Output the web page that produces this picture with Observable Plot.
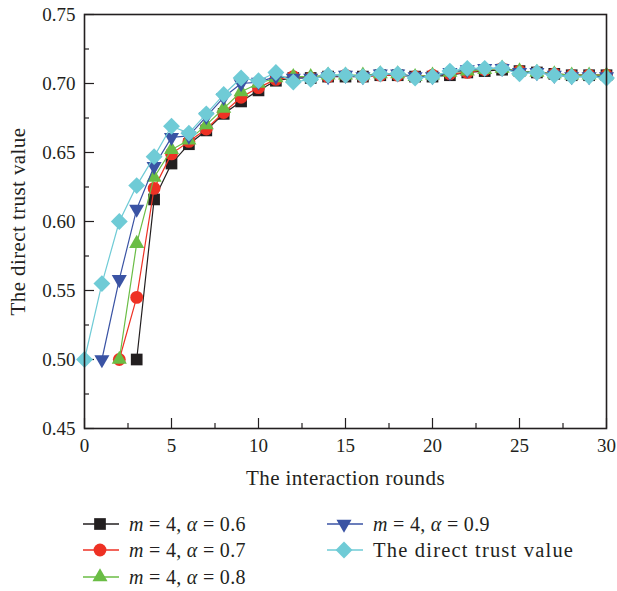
<!DOCTYPE html>
<html>
<head>
<meta charset="utf-8">
<script src="https://cdn.jsdelivr.net/npm/d3@7"></script>
<script src="https://cdn.jsdelivr.net/npm/@observablehq/plot@0.6"></script>
<style>
  html, body { margin: 0; padding: 0; background: #fff; }
  body { width: 617px; height: 591px; position: relative; overflow: hidden; font-family: "Liberation Serif", "Times New Roman", serif; color: #231f20; }
  #chart { position: absolute; left: 0; top: 0; }
  #chart g[aria-label="x-axis label"] text, #chart g[aria-label="y-axis label"] text { font-size: 21px; letter-spacing: 0.4px; }
  .leg { position: absolute; display: flex; align-items: center; height: 26px; font-size: 20px; white-space: nowrap; letter-spacing: 0.3px; }
  .leg.wide { font-size: 20.5px; letter-spacing: 1.2px; }
  .leg svg { display: block; margin-right: 10px; }
  .leg i { font-style: italic; }
</style>
</head>
<body>
<div id="chart"></div>
<div id="legend"></div>
<script>
// ---------- data ----------
const rounds = [0,1,2,3,4,5,6,7,8,9,10,11,12,13,14,15,16,17,18,19,20,21,22,23,24,25,26,27,28,29,30];

const alpha06 = [null,null,null,0.500,0.616,0.642,0.656,0.666,0.678,0.687,0.695,0.702,0.704,0.704,0.705,0.705,0.705,0.706,0.706,0.705,0.705,0.706,0.708,0.709,0.710,0.709,0.708,0.707,0.706,0.706,0.706];
const alpha07 = [null,null,0.500,0.545,0.624,0.649,0.658,0.667,0.679,0.690,0.697,0.703,0.705,0.704,0.705,0.706,0.705,0.706,0.706,0.705,0.706,0.707,0.708,0.710,0.711,0.709,0.708,0.707,0.706,0.706,0.706];
const alpha08 = [null,null,0.500,0.584,0.632,0.652,0.659,0.670,0.682,0.694,0.700,0.704,0.705,0.705,0.706,0.706,0.706,0.707,0.707,0.705,0.706,0.708,0.709,0.710,0.711,0.709,0.708,0.707,0.706,0.706,0.706];
const alpha09 = [null,0.500,0.558,0.609,0.640,0.661,0.662,0.676,0.690,0.700,0.701,0.705,0.704,0.704,0.705,0.706,0.705,0.707,0.707,0.705,0.705,0.708,0.710,0.711,0.711,0.708,0.708,0.706,0.705,0.705,0.705];
const directTrust = [0.500,0.555,0.600,0.626,0.647,0.669,0.664,0.678,0.692,0.704,0.702,0.708,0.701,0.703,0.706,0.706,0.705,0.707,0.707,0.704,0.705,0.709,0.711,0.711,0.711,0.707,0.708,0.706,0.705,0.705,0.704];

const xTicks = [0,5,10,15,20,25,30];
const xMinorTicks = [2.5,7.5,12.5,17.5,22.5,27.5];
const yTicks = [0.45,0.50,0.55,0.60,0.65,0.70,0.75];
const yMinorTicks = [0.475,0.525,0.575,0.625,0.675,0.725];

const seriesNames = ["α = 0.6","α = 0.7","α = 0.8","α = 0.9","The direct trust value"];
const seriesValues = [alpha06, alpha07, alpha08, alpha09, directTrust];
const seriesColors = ["#231f20","#ee3124","#6abd45","#3a53a4","#6fcbd6"];
const seriesSymbols = ["square","circle","triangle","triangle","diamond2"];
const seriesRotate = [0,0,0,180,0];
const seriesR = [6.6,6.4,5.6,5.6,7.6];

// ---------- build ----------
const W = 617, H = 490;
const mL = 84, mR = 11, mT = 14, mB = 62;
const innerW = W - mL - mR, innerH = H - mT - mB;
const ink = "#231f20";

const marks = [
  Plot.tickX(xMinorTicks, {x: d => d, stroke: ink, strokeWidth: 1.2, insetTop: innerH - 5}),
  Plot.tickX(xTicks, {x: d => d, stroke: ink, strokeWidth: 1.2, insetTop: innerH - 10}),
  Plot.tickY(yMinorTicks, {y: d => d, stroke: ink, strokeWidth: 1.2, insetRight: innerW - 5}),
  Plot.tickY(yTicks, {y: d => d, stroke: ink, strokeWidth: 1.2, insetRight: innerW - 10})
];

seriesValues.forEach((vals, i) => {
  const rows = rounds.map((x, j) => ({x, y: vals[j]})).filter(d => d.y != null);
  marks.push(Plot.line(rows, {x: "x", y: "y", stroke: seriesColors[i], strokeWidth: 1.2}));
  marks.push(Plot.dot(rows, {x: "x", y: "y", symbol: () => seriesSymbols[i], r: seriesR[i], fill: seriesColors[i], stroke: "none", rotate: seriesRotate[i]}));
});
marks.push(Plot.frame({stroke: ink, strokeWidth: 1.6}));

const chart = Plot.plot({
  width: W, height: H,
  marginLeft: mL, marginRight: mR, marginTop: mT, marginBottom: mB,
  style: {fontFamily: "'Liberation Serif', 'Times New Roman', serif", fontSize: "19px", color: ink, background: "#fff", overflow: "visible"},
  x: {domain: [0, 30], ticks: xTicks, tickSize: 0, tickPadding: 10, tickFormat: d => String(d),
      label: "The interaction rounds", labelAnchor: "center", labelArrow: "none", labelOffset: 56},
  y: {domain: [0.45, 0.75], ticks: yTicks, tickSize: 0, tickPadding: 9, tickFormat: d3.format(".2f"),
      label: "The direct trust value", labelAnchor: "center", labelArrow: "none", labelOffset: 74},
  symbol: {type: "identity"},
  marks
});
document.getElementById("chart").appendChild(chart);

// ---------- legend ----------
const legend = document.getElementById("legend");
const legendPos = [
  {left: 83, top: 511}, {left: 83, top: 537}, {left: 83, top: 564},
  {left: 327, top: 511}, {left: 327, top: 537}
];
seriesNames.forEach((name, i) => {
  const item = document.createElement("div");
  item.className = i < 4 ? "leg" : "leg wide";
  item.style.left = legendPos[i].left + "px";
  item.style.top = legendPos[i].top + "px";
  const svg = d3.create("svg").attr("width", 36).attr("height", 26);
  svg.append("line").attr("x1", 0).attr("x2", 36).attr("y1", 13).attr("y2", 13)
     .attr("stroke", seriesColors[i]).attr("stroke-width", 1.5);
  const symMap = {square: d3.symbolSquare, circle: d3.symbolCircle, triangle: d3.symbolTriangle, diamond2: d3.symbolDiamond2};
  svg.append("path")
     .attr("d", d3.symbol(symMap[seriesSymbols[i]], Math.PI * seriesR[i] * seriesR[i])())
     .attr("transform", `translate(17,13) rotate(${seriesRotate[i]})`)
     .attr("fill", seriesColors[i]);
  item.appendChild(svg.node());
  const span = document.createElement("span");
  if (i < 4) {
    span.innerHTML = `<i>m</i> = 4, <i>α</i> = ${name.split("= ")[1]}`;
  } else {
    span.textContent = name;
  }
  item.appendChild(span);
  legend.appendChild(item);
});
</script>
</body>
</html>
